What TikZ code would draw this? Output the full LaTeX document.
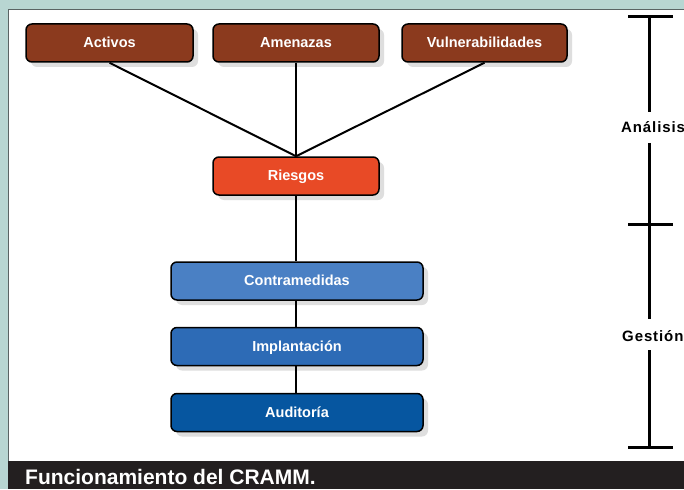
\documentclass[tikz,border=0pt]{standalone}
\usepackage{fontspec}
\setmainfont{Liberation Sans}
\usetikzlibrary{shadows}
\definecolor{teal0}{RGB}{184,214,210}
\definecolor{brown0}{RGB}{139,58,30}
\definecolor{riesgo}{RGB}{232,74,38}
\definecolor{blueA}{RGB}{74,128,196}
\definecolor{blueB}{RGB}{45,107,182}
\definecolor{blueC}{RGB}{6,86,160}
\definecolor{capbar}{RGB}{35,31,32}
\definecolor{frameline}{RGB}{90,100,100}
\begin{document}
\begin{tikzpicture}[x=1pt,y=-1pt,
  box/.style={draw=black, line width=1.5pt, rounded corners=6pt, text=white,
    font=\bfseries\fontsize{14.5}{17}\selectfont, minimum height=38pt, inner sep=0pt,
    text height=9.6pt, text depth=0pt,
    drop shadow={shadow xshift=5pt, shadow yshift=-5pt, fill=black!13, opacity=1}},
  conn/.style={line width=2pt, black},
  scaleline/.style={line width=3pt, black},
  scalelabel/.style={font=\bfseries\fontsize{15}{18}\selectfont\addfontfeature{LetterSpace=6}, inner sep=0pt, anchor=base west},
]
\useasboundingbox (0,0) rectangle (684,489);
\fill[teal0] (0,0) rectangle (684,489);
\fill[white] (8,10) rectangle (684,461);
\draw[frameline, line width=1pt] (8,461) -- (8,10) -- (684,10);
\fill[capbar] (8,461) rectangle (684,489);

% nodes
\node[box, fill=brown0, minimum width=167pt] (act) at (109.5,43) {Activos};
\node[box, fill=brown0, minimum width=166pt] (ame) at (296,43) {Amenazas};
\node[box, fill=brown0, minimum width=165pt] (vul) at (484.5,43) {Vulnerabilidades};
\node[box, fill=riesgo, minimum width=166pt] (rie) at (296,176) {Riesgos};
\node[box, fill=blueA, minimum width=252pt] (con) at (297,281) {Contramedidas};
\node[box, fill=blueB, minimum width=252pt] (imp) at (297,346.5) {Implantación};
\node[box, fill=blueC, minimum width=252pt] (aud) at (297,412.5) {Auditoría};

% connectors
\draw[conn] (act.south) -- (rie.north);
\draw[conn] (ame.south) -- (rie.north);
\draw[conn] (vul.south) -- (rie.north);
\draw[conn] (rie.south) -- (con.north -| rie.south);
\draw[conn] (con.south -| rie.south) -- (imp.north -| rie.south);
\draw[conn] (imp.south -| rie.south) -- (aud.north -| rie.south);

% right scale
\node[scalelabel] (an) at (621,133) {Análisis};
\node[scalelabel] (ge) at (622,341) {Gestión};
\coordinate (s0) at (649,17);
\coordinate (s1) at (649,112);
\coordinate (s2) at (649,143);
\coordinate (s3) at (649,224);
\coordinate (s4) at (649,319);
\coordinate (s5) at (649,350);
\coordinate (s6) at (649,447);
\draw[scaleline] (s0) -- (s1);
\draw[scaleline] (s2) -- (s4);
\draw[scaleline] (s5) -- (s6);
\draw[scaleline] ([xshift=-21pt]s0) -- ([xshift=24pt]s0);
\draw[scaleline] ([xshift=-21pt]s3) -- ([xshift=24pt]s3);
\draw[scaleline] ([xshift=-21pt]s6) -- ([xshift=24pt]s6);

% caption
\node[font=\bfseries\fontsize{21}{25}\selectfont, text=white, inner sep=0pt, anchor=base west] (cap) at (25,484) {Funcionamiento del CRAMM.};
\end{tikzpicture}
\end{document}
